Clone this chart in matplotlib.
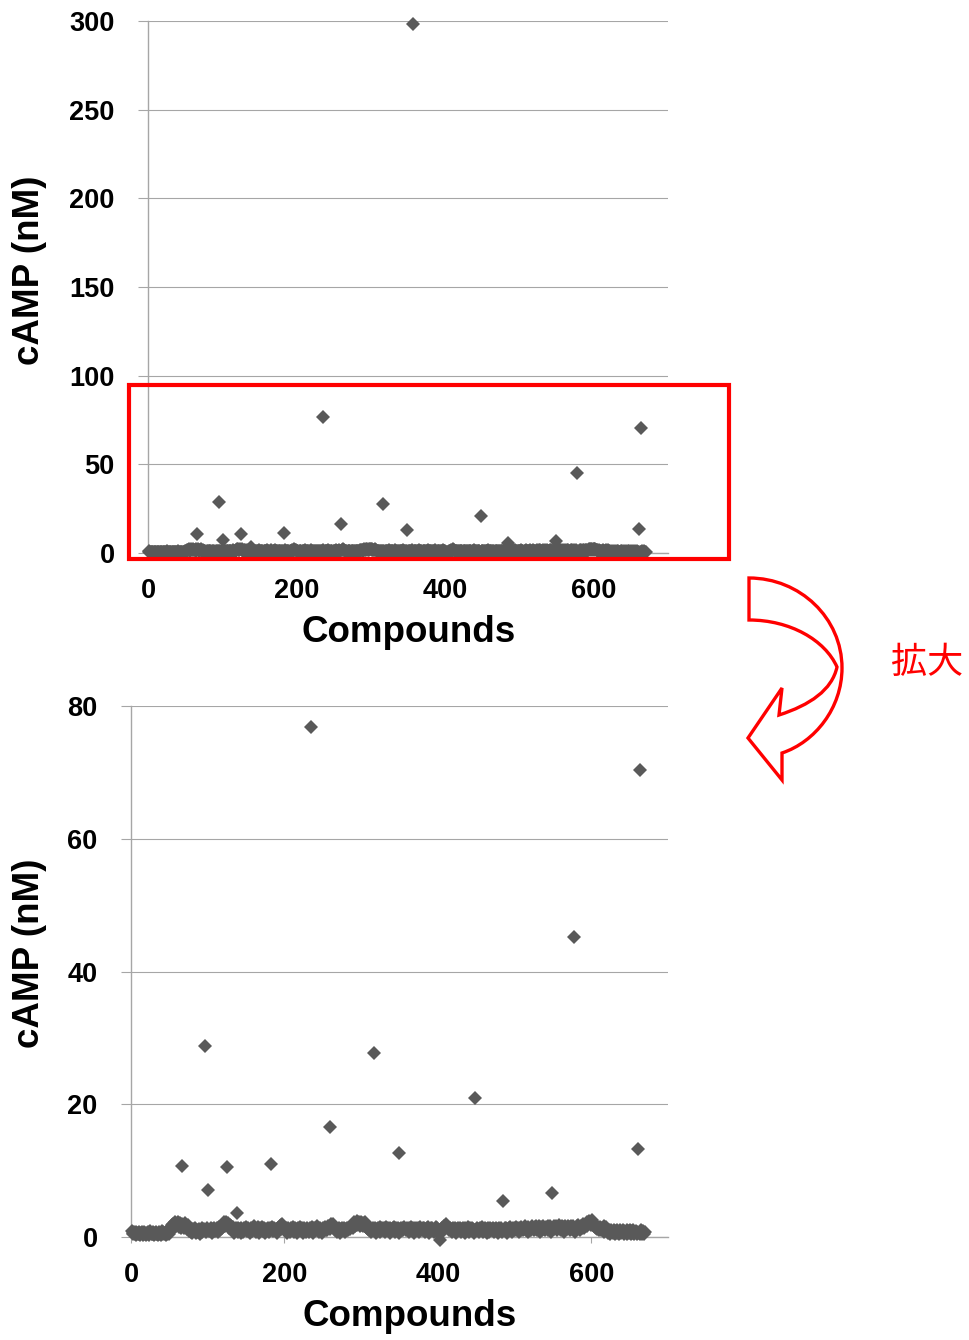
import numpy as np
import matplotlib
matplotlib.use('Agg')
from matplotlib import pyplot as plt
from matplotlib.path import Path
from matplotlib.patches import PathPatch, Rectangle

# baseline cAMP (nM) for compounds 1..670
baseline = [
    0.9,0.6,0.4,0.8,0.5,0.3,0.7,0.6,0.4,0.8,
    0.5,0.3,0.6,0.7,0.4,0.3,0.8,0.5,0.6,0.3,
    0.4,0.7,0.5,0.3,0.9,0.6,0.4,0.5,0.7,0.3,
    0.6,0.4,0.8,0.5,0.3,0.7,0.6,0.4,0.3,0.9,
    0.5,0.7,0.4,0.6,0.8,0.3,0.5,0.7,0.4,1.0,
    1.4,1.1,1.8,1.5,2.0,1.3,1.7,2.2,1.6,1.9,
    2.3,1.5,1.8,2.1,1.4,1.7,2.0,1.6,1.3,1.9,
    2.1,1.5,1.2,1.8,1.4,0.9,1.1,0.7,1.0,0.6,
    1.2,0.9,1.0,1.3,0.6,1.1,0.7,1.0,1.2,0.5,
    1.1,0.8,1.3,1.0,1.2,0.6,1.1,0.7,1.4,1.0,
    1.2,0.9,1.1,1.3,0.6,1.0,1.2,1.4,0.9,1.1,
    1.0,1.3,0.8,1.2,1.5,1.1,1.4,1.8,1.3,2.0,
    2.3,1.6,1.9,2.2,1.5,1.7,2.1,1.4,1.8,1.6,
    1.3,1.1,1.5,0.6,1.2,1.0,1.4,1.1,0.8,1.3,
    1.0,1.2,0.6,1.4,1.1,0.8,1.3,1.0,1.2,1.5,
    0.9,1.1,1.3,1.0,0.6,1.4,1.2,0.9,1.1,1.6,
    1.0,1.3,0.7,1.2,1.5,1.1,0.6,1.4,1.0,1.2,
    1.5,0.9,1.1,1.3,0.6,1.2,1.0,1.4,1.1,0.7,
    1.3,1.0,1.2,1.5,0.9,1.1,1.4,1.0,1.2,0.6,
    1.4,1.1,1.3,1.6,1.2,1.8,2.0,1.7,1.5,1.2,
    1.0,1.3,0.6,1.2,1.4,1.1,0.8,1.3,1.0,1.2,
    1.5,0.7,1.1,1.4,1.0,1.2,0.6,1.3,1.1,1.5,
    1.0,1.2,1.4,0.6,1.1,1.3,1.0,0.8,1.2,1.4,
    1.1,0.7,1.3,1.0,1.2,1.5,0.6,1.1,1.4,1.0,
    1.2,1.6,1.0,1.3,0.7,1.2,1.4,1.1,0.6,1.3,
    1.0,1.2,1.5,1.1,1.3,1.0,1.6,1.4,1.2,1.7,
    1.9,1.5,2.0,1.6,1.3,1.1,1.4,0.7,1.2,1.0,
    1.3,1.1,0.6,1.2,1.4,1.0,1.1,1.3,0.7,1.2,
    1.0,1.4,1.1,1.3,1.5,1.2,1.6,1.8,1.4,1.9,
    2.2,1.7,2.1,1.8,2.4,1.9,2.2,1.6,2.0,2.3,
    1.8,2.1,1.7,1.9,2.2,1.5,1.8,1.4,1.2,1.0,
    1.3,1.1,0.7,1.2,1.4,1.0,1.1,1.3,0.6,1.2,
    1.0,1.3,1.1,1.5,0.7,1.2,1.4,1.0,1.1,1.3,
    0.7,1.2,1.5,1.0,1.3,1.1,0.6,1.4,1.2,1.0,
    1.3,1.1,1.5,0.7,1.2,1.4,1.0,1.3,1.1,0.6,
    1.2,1.4,1.0,1.3,1.1,1.5,0.7,1.2,1.0,1.4,
    1.1,1.3,0.7,1.2,1.5,1.0,1.4,1.1,0.6,1.3,
    1.2,1.0,1.4,1.1,1.3,0.7,1.5,1.2,1.0,1.3,
    1.1,1.4,0.7,1.2,1.0,1.3,1.5,1.1,0.6,1.2,
    1.4,1.0,1.3,1.1,0.7,1.2,1.5,1.0,1.3,1.1,
    0.7,0.4,-0.4,0.6,1.2,1.4,1.1,1.6,1.3,1.8,
    2.0,1.7,1.4,1.2,1.0,1.3,1.1,0.7,1.2,1.4,
    1.0,1.3,1.1,0.6,1.2,1.4,1.0,1.1,1.3,0.7,
    1.2,1.0,1.4,1.1,1.3,0.6,1.2,1.0,1.5,1.1,
    0.7,1.3,1.1,1.4,1.0,1.2,0.6,1.3,1.1,1.0,
    1.4,1.2,0.7,1.1,1.3,1.0,1.2,1.5,0.7,1.1,
    1.3,1.0,1.2,0.6,1.4,1.1,0.7,1.3,1.0,1.2,
    1.1,1.4,0.7,1.2,1.0,1.3,1.1,0.6,1.2,1.4,
    1.0,1.3,1.1,0.7,1.2,1.0,1.4,1.1,1.3,0.6,
    1.2,1.0,1.3,1.5,1.1,0.7,1.2,1.4,1.0,1.3,
    1.1,1.5,1.0,1.2,1.4,0.7,1.3,1.1,1.5,1.2,
    1.0,1.4,1.2,1.6,1.1,1.3,0.7,1.5,1.2,1.0,
    1.4,1.1,1.6,1.3,1.0,1.5,1.2,1.7,1.1,1.4,
    1.2,1.6,0.8,1.3,1.5,1.1,1.7,1.2,1.4,1.0,
    1.5,1.3,1.7,1.1,1.4,1.6,1.2,0.8,1.5,1.3,
    1.6,1.2,1.4,1.7,1.1,1.5,1.3,1.8,1.2,1.4,
    1.0,1.6,1.3,1.5,0.8,1.7,1.4,1.2,1.6,1.3,
    1.5,1.1,1.4,1.7,1.2,1.6,1.3,1.5,0.8,1.4,
    1.6,1.2,1.8,1.4,1.1,1.5,1.7,1.3,1.9,1.6,
    1.4,1.8,2.0,1.7,2.2,1.9,2.4,2.1,1.8,2.3,
    2.5,2.0,1.7,1.9,1.5,1.3,1.6,1.2,1.4,1.0,
    1.3,1.5,1.1,1.4,1.2,1.6,0.8,1.3,1.5,1.1,
    0.9,0.6,1.1,0.7,0.5,1.0,0.8,0.6,1.1,0.7,
    0.5,0.9,1.0,0.6,0.8,0.4,0.9,1.1,0.6,0.8,
    1.0,0.5,0.9,0.7,0.8,1.1,0.4,0.9,0.6,1.0,
    0.8,0.5,0.9,0.6,1.0,0.4,0.8,0.9,0.5,0.7,
    0.9,0.6,0.5,0.8,1.0,0.4,0.7,0.9,0.5,0.8,
]

# the high responders
hit_ids = [66, 96, 101, 125, 138, 183, 235, 260, 317, 349, 357, 448, 485, 549, 578, 661, 664]
hit_camp = [10.7, 28.8, 7.1, 10.5, 3.6, 11.0, 76.8, 16.6, 27.7, 12.7, 298.5, 20.9, 5.4, 6.6, 45.2, 13.3, 70.3]

compounds = np.arange(1, len(baseline) + 1)
camp = np.array(baseline)
camp[np.array(hit_ids) - 1] = hit_camp

x_ticks = [0, 200, 400, 600]
top_yticks = [0, 50, 100, 150, 200, 250, 300]
zoom_yticks = [0, 20, 40, 60, 80]

W, H = 970, 1340
fig = plt.figure(figsize=(W / 100, H / 100), dpi=100)
bold = dict(family='Liberation Sans', weight='bold')

def fx(px, py):
    return (px / W, 1 - py / H)

def setup(ax, yticks):
    ax.set_xlim(0, 700)
    ax.set_ylim(yticks[0], yticks[-1])
    ax.set_xticks(x_ticks)
    ax.set_yticks(yticks)
    for s in ['top', 'right']:
        ax.spines[s].set_visible(False)
    for s in ['left', 'bottom']:
        ax.spines[s].set_color('#a6a6a6')
        ax.spines[s].set_linewidth(1.0)
    ax.grid(axis='y', color='#a6a6a6', lw=0.8)
    ax.set_axisbelow(True)
    ax.tick_params(axis='y', length=7, color='#a6a6a6', pad=17)
    ax.tick_params(axis='x', length=4, color='#a6a6a6', pad=14)
    for lab in ax.get_xticklabels() + ax.get_yticklabels():
        lab.set_fontproperties(matplotlib.font_manager.FontProperties(size=19.5, **bold))

# full range panel
ax1 = fig.add_axes([148 / W, 1 - 553 / H, 520 / W, 532 / H])
setup(ax1, top_yticks)
ax1.plot(compounds, camp, ls='none', marker='D', ms=7, mew=0, color='#595959', clip_on=False, zorder=3)

# zoomed panel
ax2 = fig.add_axes([131 / W, 1 - 1237 / H, 537 / W, 531 / H])
setup(ax2, zoom_yticks)
keep = camp <= 80
ax2.plot(compounds[keep], camp[keep], ls='none', marker='D', ms=7, mew=0, color='#595959', clip_on=False, zorder=3)

# axis titles
fig.text(*fx(409, 632), 'Compounds', ha='center', va='center', fontsize=26.5, **bold)
fig.text(*fx(410, 1316), 'Compounds', ha='center', va='center', fontsize=26.5, **bold)
fig.text(*fx(30, 270), 'cAMP (nM)', ha='center', va='center', rotation=90, fontsize=26.5, **bold)
fig.text(*fx(30, 953), 'cAMP (nM)', ha='center', va='center', rotation=90, fontsize=26.5, **bold)

# red highlight box
fig.patches.append(Rectangle(fx(129, 559), 600 / W, 174 / H, transform=fig.transFigure,
                             fill=False, ec='red', lw=3))

# curved arrow
pts = [(749, 578), (800, 578), (842, 618), (842, 668),
       (842, 708), (815, 742), (782, 753),
       (782, 780), (748, 738), (782, 688), (779, 715),
       (810, 705), (832, 690), (837, 667),
       (825, 640), (790, 620), (749, 620), (749, 578)]
codes = [Path.MOVETO, Path.CURVE4, Path.CURVE4, Path.CURVE4,
         Path.CURVE4, Path.CURVE4, Path.CURVE4,
         Path.LINETO, Path.LINETO, Path.LINETO, Path.LINETO,
         Path.CURVE4, Path.CURVE4, Path.CURVE4,
         Path.CURVE4, Path.CURVE4, Path.CURVE4, Path.CLOSEPOLY]
arrow = Path([fx(*p) for p in pts], codes)
fig.patches.append(PathPatch(arrow, transform=fig.transFigure, fill=False, ec='red', lw=2.4, joinstyle='miter'))

fig.text(*fx(927, 663), '拡大', ha='center', va='center', color='red', fontsize=26,
         family=['Noto Sans CJK JP', 'DejaVu Sans'])

fig.savefig('out.png', dpi=100)
